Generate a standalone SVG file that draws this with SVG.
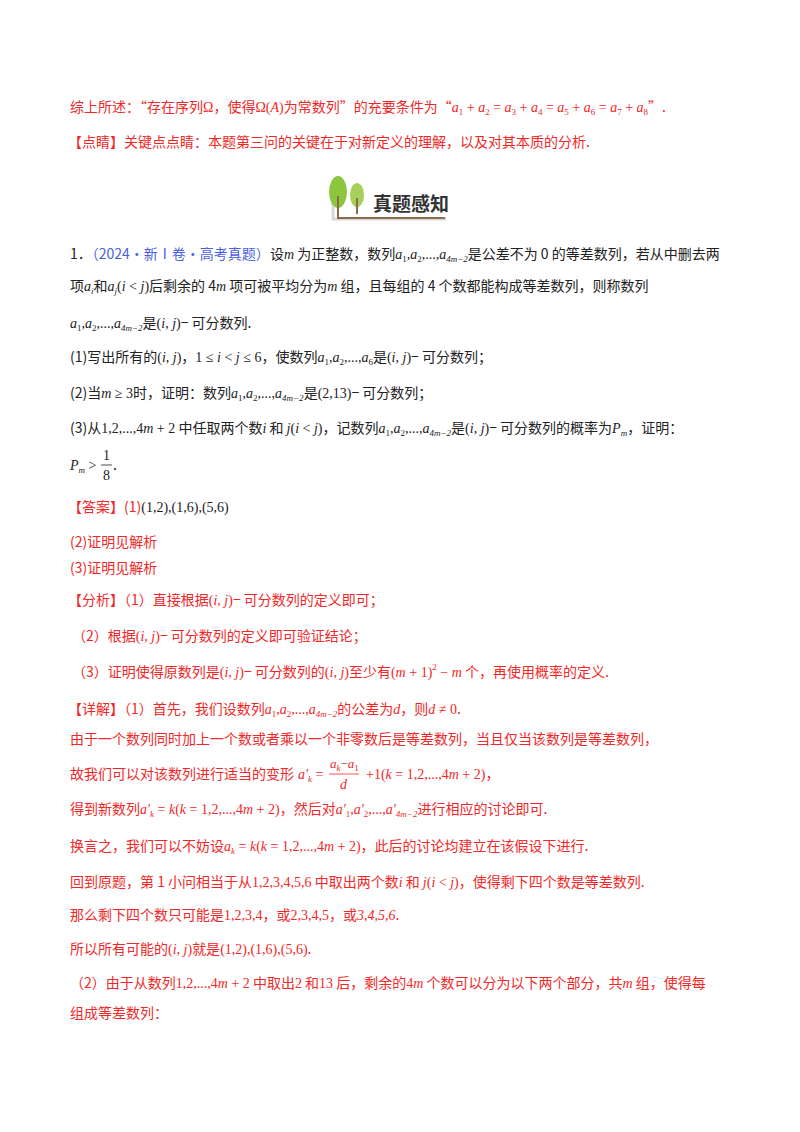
<svg xmlns="http://www.w3.org/2000/svg" width="800" height="1132" viewBox="0 0 800 1132">
<style>
text{font-family:"Noto Sans CJK SC","Noto Sans",sans-serif;font-size:14px;fill:#222}
.r{fill:#f02828}
.b{fill:#4a5fe0}
.m{font-family:"Liberation Serif",serif;font-style:italic}
.n{font-family:"Liberation Serif",serif}
.s{font-size:9px}
</style>
<rect width="800" height="1132" fill="#fff"/>
<g id="p1">
<text x="70" y="112" class="r">综上所述：“存在序列<tspan class="n">Ω</tspan>，使得<tspan class="n">Ω(</tspan><tspan class="m">A</tspan><tspan class="n">)</tspan>为常数列”的充要条件为“<tspan class="m">a</tspan><tspan class="n s" dy="3">1</tspan><tspan class="n" dy="-3"> + </tspan><tspan class="m">a</tspan><tspan class="n s" dy="3">2</tspan><tspan class="n" dy="-3"> = </tspan><tspan class="m">a</tspan><tspan class="n s" dy="3">3</tspan><tspan class="n" dy="-3"> + </tspan><tspan class="m">a</tspan><tspan class="n s" dy="3">4</tspan><tspan class="n" dy="-3"> = </tspan><tspan class="m">a</tspan><tspan class="n s" dy="3">5</tspan><tspan class="n" dy="-3"> + </tspan><tspan class="m">a</tspan><tspan class="n s" dy="3">6</tspan><tspan class="n" dy="-3"> = </tspan><tspan class="m">a</tspan><tspan class="n s" dy="3">7</tspan><tspan class="n" dy="-3"> + </tspan><tspan class="m">a</tspan><tspan class="n s" dy="3">8</tspan><tspan dy="-3">”.</tspan></text>
<text x="68" y="147" class="r">【点睛】关键点点睛：本题第三问的关键在于对新定义的理解，以及对其本质的分析.</text>
</g>
<g id="banner">
<path d="M333 190 V219 H446" stroke="#d8d8d8" stroke-width="3" fill="none"/>
<ellipse cx="338" cy="192" rx="9" ry="16" fill="#8cc63f"/>
<ellipse cx="357" cy="195" rx="7" ry="12" fill="#a6d05a"/>
<line x1="357" y1="198" x2="357" y2="214" stroke="#8a6b4a" stroke-width="2"/>
<path d="M338 196 V218 H445" stroke="#8a6b4a" stroke-width="2" fill="none"/>
<text x="373" y="211" style="font-size:19px;font-weight:bold;fill:#333">真题感知</text>
</g>
<g id="q">
<text x="70" y="259">1．<tspan class="b">（2024·新Ⅰ卷·高考真题）</tspan>设<tspan class="m">m</tspan> 为正整数，数列<tspan class="m">a</tspan><tspan class="n s" dy="3">1</tspan><tspan class="n" dy="-3">,</tspan><tspan class="m">a</tspan><tspan class="n s" dy="3">2</tspan><tspan class="n" dy="-3">,...,</tspan><tspan class="m">a</tspan><tspan class="m s" dy="3">4m−2</tspan><tspan dy="-3">是公差不为 0 的等差数列，若从中删去两</tspan></text>
<text x="70" y="291">项<tspan class="m">a</tspan><tspan class="m s" dy="3">i</tspan><tspan dy="-3">和</tspan><tspan class="m">a</tspan><tspan class="m s" dy="3">j</tspan><tspan class="n" dy="-3">(</tspan><tspan class="m">i</tspan><tspan class="n"> &lt; </tspan><tspan class="m">j</tspan><tspan class="n">)</tspan>后剩余的 4<tspan class="m">m</tspan> 项可被平均分为<tspan class="m">m</tspan> 组，且每组的 4 个数都能构成等差数列，则称数列</text>
<text x="70" y="328"><tspan class="m">a</tspan><tspan class="n s" dy="3">1</tspan><tspan class="n" dy="-3">,</tspan><tspan class="m">a</tspan><tspan class="n s" dy="3">2</tspan><tspan class="n" dy="-3">,...,</tspan><tspan class="m">a</tspan><tspan class="m s" dy="3">4m−2</tspan><tspan dy="-3">是</tspan><tspan class="n">(</tspan><tspan class="m">i</tspan><tspan class="n">, </tspan><tspan class="m">j</tspan><tspan class="n">)</tspan>− 可分数列.</text>
<text x="70" y="362">(1)写出所有的<tspan class="n">(</tspan><tspan class="m">i</tspan><tspan class="n">, </tspan><tspan class="m">j</tspan><tspan class="n">)</tspan>，<tspan class="n">1 ≤ </tspan><tspan class="m">i</tspan><tspan class="n"> &lt; </tspan><tspan class="m">j</tspan><tspan class="n"> ≤ 6</tspan>，使数列<tspan class="m">a</tspan><tspan class="n s" dy="3">1</tspan><tspan class="n" dy="-3">,</tspan><tspan class="m">a</tspan><tspan class="n s" dy="3">2</tspan><tspan class="n" dy="-3">,...,</tspan><tspan class="m">a</tspan><tspan class="n s" dy="3">6</tspan><tspan dy="-3">是</tspan><tspan class="n">(</tspan><tspan class="m">i</tspan><tspan class="n">, </tspan><tspan class="m">j</tspan><tspan class="n">)</tspan>− 可分数列；</text>
<text x="70" y="398">(2)当<tspan class="m">m</tspan><tspan class="n"> ≥ 3</tspan>时，证明：数列<tspan class="m">a</tspan><tspan class="n s" dy="3">1</tspan><tspan class="n" dy="-3">,</tspan><tspan class="m">a</tspan><tspan class="n s" dy="3">2</tspan><tspan class="n" dy="-3">,...,</tspan><tspan class="m">a</tspan><tspan class="m s" dy="3">4m−2</tspan><tspan dy="-3">是</tspan><tspan class="n">(2,13)</tspan>− 可分数列；</text>
<text x="70" y="433">(3)从<tspan class="n">1,2,...,4</tspan><tspan class="m">m</tspan><tspan class="n"> + 2</tspan> 中任取两个数<tspan class="m">i</tspan> 和 <tspan class="m">j</tspan><tspan class="n">(</tspan><tspan class="m">i</tspan><tspan class="n"> &lt; </tspan><tspan class="m">j</tspan><tspan class="n">)</tspan>，记数列<tspan class="m">a</tspan><tspan class="n s" dy="3">1</tspan><tspan class="n" dy="-3">,</tspan><tspan class="m">a</tspan><tspan class="n s" dy="3">2</tspan><tspan class="n" dy="-3">,...,</tspan><tspan class="m">a</tspan><tspan class="m s" dy="3">4m−2</tspan><tspan dy="-3">是</tspan><tspan class="n">(</tspan><tspan class="m">i</tspan><tspan class="n">, </tspan><tspan class="m">j</tspan><tspan class="n">)</tspan>− 可分数列的概率为<tspan class="m">P</tspan><tspan class="m s" dy="3">m</tspan><tspan dy="-3">，证明：</tspan></text>
<text x="70" y="470"><tspan class="m">P</tspan><tspan class="m s" dy="3">m</tspan><tspan class="n" dy="-3"> &gt; </tspan></text>
<text x="103" y="460" class="n">1</text>
<line x1="101" y1="465" x2="112" y2="465" stroke="#222" stroke-width="0.8"/>
<text x="103" y="480" class="n">8</text>
<text x="113" y="470">.</text>
</g>
<g id="ans">
<text x="68" y="512" class="r">【答案】(1)<tspan class="n" style="fill:#222">(1,2),(1,6),(5,6)</tspan></text>
<text x="70" y="547" class="r">(2)证明见解析</text>
<text x="70" y="573" class="r">(3)证明见解析</text>
</g>
<g id="fx">
<text x="68" y="605" class="r">【分析】（1）直接根据<tspan class="n">(</tspan><tspan class="m">i</tspan><tspan class="n">, </tspan><tspan class="m">j</tspan><tspan class="n">)</tspan>− 可分数列的定义即可；</text>
<text x="72" y="641" class="r">（2）根据<tspan class="n">(</tspan><tspan class="m">i</tspan><tspan class="n">, </tspan><tspan class="m">j</tspan><tspan class="n">)</tspan>− 可分数列的定义即可验证结论；</text>
<text x="72" y="677" class="r">（3）证明使得原数列是<tspan class="n">(</tspan><tspan class="m">i</tspan><tspan class="n">, </tspan><tspan class="m">j</tspan><tspan class="n">)</tspan>− 可分数列的<tspan class="n">(</tspan><tspan class="m">i</tspan><tspan class="n">, </tspan><tspan class="m">j</tspan><tspan class="n">)</tspan>至少有<tspan class="n">(</tspan><tspan class="m">m</tspan><tspan class="n"> + 1)</tspan><tspan class="n s" dy="-7">2</tspan><tspan class="n" dy="7"> − </tspan><tspan class="m">m</tspan> 个，再使用概率的定义.</text>
</g>
<g id="xj">
<text x="68" y="714" class="r">【详解】（1）首先，我们设数列<tspan class="m">a</tspan><tspan class="n s" dy="3">1</tspan><tspan class="n" dy="-3">,</tspan><tspan class="m">a</tspan><tspan class="n s" dy="3">2</tspan><tspan class="n" dy="-3">,...,</tspan><tspan class="m">a</tspan><tspan class="m s" dy="3">4m−2</tspan><tspan dy="-3">的公差为</tspan><tspan class="m">d</tspan>，则<tspan class="m">d</tspan><tspan class="n"> ≠ 0</tspan>.</text>
<text x="70" y="744" class="r">由于一个数列同时加上一个数或者乘以一个非零数后是等差数列，当且仅当该数列是等差数列，</text>
<text x="70" y="779" class="r">故我们可以对该数列进行适当的变形</text>
<text x="298" y="779" class="r"><tspan class="m">a′</tspan><tspan class="m s" dy="3">k</tspan><tspan class="n" dy="-3"> = </tspan></text>
<text x="330" y="768" class="r" style="font-size:13px"><tspan class="m">a</tspan><tspan class="m s" dy="3">k</tspan><tspan class="n" dy="-3">−</tspan><tspan class="m">a</tspan><tspan class="n s" dy="3">1</tspan></text>
<line x1="329" y1="774" x2="359" y2="774" stroke="#f02828" stroke-width="0.8"/>
<text x="340" y="789" class="r m">d</text>
<text x="366" y="779" class="r"><tspan class="n">+1(</tspan><tspan class="m">k</tspan><tspan class="n"> = 1,2,...,4</tspan><tspan class="m">m</tspan><tspan class="n"> + 2)</tspan>，</text>
<text x="70" y="814" class="r">得到新数列<tspan class="m">a′</tspan><tspan class="m s" dy="3">k</tspan><tspan class="n" dy="-3"> = </tspan><tspan class="m">k</tspan><tspan class="n">(</tspan><tspan class="m">k</tspan><tspan class="n"> = 1,2,...,4</tspan><tspan class="m">m</tspan><tspan class="n"> + 2)</tspan>，然后对<tspan class="m">a′</tspan><tspan class="n s" dy="3">1</tspan><tspan class="n" dy="-3">,</tspan><tspan class="m">a′</tspan><tspan class="n s" dy="3">2</tspan><tspan class="n" dy="-3">,...,</tspan><tspan class="m">a′</tspan><tspan class="m s" dy="3">4m−2</tspan><tspan dy="-3">进行相应的讨论即可.</tspan></text>
<text x="70" y="851" class="r">换言之，我们可以不妨设<tspan class="m">a</tspan><tspan class="m s" dy="3">k</tspan><tspan class="n" dy="-3"> = </tspan><tspan class="m">k</tspan><tspan class="n">(</tspan><tspan class="m">k</tspan><tspan class="n"> = 1,2,...,4</tspan><tspan class="m">m</tspan><tspan class="n"> + 2)</tspan>，此后的讨论均建立在该假设下进行.</text>
<text x="70" y="887" class="r">回到原题，第 1 小问相当于从<tspan class="n">1,2,3,4,5,6</tspan> 中取出两个数<tspan class="m">i</tspan> 和 <tspan class="m">j</tspan><tspan class="n">(</tspan><tspan class="m">i</tspan><tspan class="n"> &lt; </tspan><tspan class="m">j</tspan><tspan class="n">)</tspan>，使得剩下四个数是等差数列.</text>
<text x="70" y="920" class="r">那么剩下四个数只可能是<tspan class="n">1,2,3,4</tspan>，或<tspan class="n">2,3,4,5</tspan>，或<tspan class="m">3,4,5,6</tspan>.</text>
<text x="70" y="954" class="r">所以所有可能的<tspan class="n">(</tspan><tspan class="m">i</tspan><tspan class="n">, </tspan><tspan class="m">j</tspan><tspan class="n">)</tspan>就是<tspan class="n">(1,2),(1,6),(5,6)</tspan>.</text>
<text x="70" y="988" class="r">（2）由于从数列<tspan class="n">1,2,...,4</tspan><tspan class="m">m</tspan><tspan class="n"> + 2</tspan> 中取出<tspan class="n">2</tspan> 和<tspan class="n">13</tspan> 后，剩余的<tspan class="n">4</tspan><tspan class="m">m</tspan> 个数可以分为以下两个部分，共<tspan class="m">m</tspan> 组，使得每</text>
<text x="70" y="1018" class="r">组成等差数列：</text>
</g>
</svg>
